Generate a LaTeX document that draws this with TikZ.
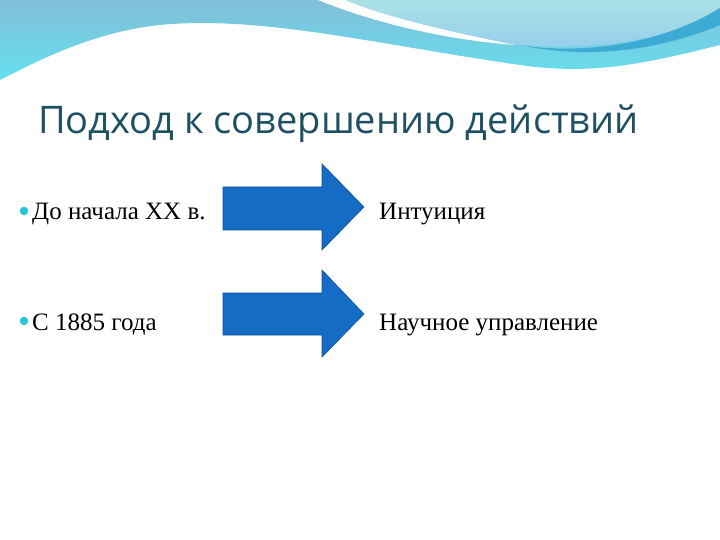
\documentclass[tikz,border=0pt]{standalone}
\usepackage{fontspec}
\setmainfont{Liberation Serif}
\newfontfamily\titlefont{Open Sans}
\definecolor{arrfill}{RGB}{21,108,196}
\definecolor{arrline}{RGB}{20,80,150}
\definecolor{bulc}{RGB}{40,200,220}
\definecolor{wtop}{RGB}{130,190,215}
\definecolor{wbot}{RGB}{100,225,240}
\definecolor{w2top}{RGB}{170,225,230}
\definecolor{w2bot}{RGB}{150,205,235}
\definecolor{wstripe}{RGB}{60,170,210}
\definecolor{titlec}{RGB}{30,80,100}
\begin{document}
\begin{tikzpicture}[x=1pt,y=-1pt,
  arr/.style={fill=arrfill,draw=arrline,line width=0.6pt},
  txt/.style={anchor=base west,inner sep=0,font=\fontsize{25}{30}\selectfont},
  bul/.style={circle,fill=bulc,inner sep=0,minimum size=8.5pt}]
\useasboundingbox (0,0) rectangle (720,540);
\fill[white] (0,0) rectangle (720,540);
% top wave
\shade[top color=wtop,bottom color=wbot]
 (0,0) -- (720,0) -- (720,45) .. controls (640,65) and (590,75) .. (520,65)
 .. controls (380,45) and (260,15) .. (160,25) .. controls (90,32) and (30,65) .. (0,80) -- cycle;
\shade[top color=w2top,bottom color=w2bot]
 (330,0) -- (720,0) -- (720,10) .. controls (660,45) and (580,50) .. (520,45) .. controls (440,35) and (380,15) .. (330,0) -- cycle;
\fill[white] (318,0) .. controls (380,25) and (450,40) .. (515,45) .. controls (440,30) and (380,15) .. (345,0) -- cycle;
\fill[wstripe] (720,8) .. controls (660,45) and (580,55) .. (520,45) .. controls (590,60) and (660,50) .. (720,25) -- cycle;
% title
\node[anchor=base west,inner sep=0,text=titlec,font=\titlefont\fontsize{38}{44}\selectfont] (title) at (38,134) {Подход к совершению действий};
% bullets and text
\node[bul] (b1) at (24,211) {};
\node[bul] (b2) at (24,321) {};
\node[txt] (t1) at (32,220) {До начала XX в.};
\node[txt] (t2) at (32,330) {С 1885 года};
\node[txt] (r1) at (379,220) {Интуиция};
\node[txt] (r2) at (379,330) {Научное управление};
% arrows
\filldraw[arr] (223,187) -- (322,187) -- (322,164) -- (364,207) -- (322,250) -- (322,230) -- (223,230) -- cycle;
\filldraw[arr] (223,293) -- (322,293) -- (322,270) -- (364,314) -- (322,357) -- (322,335) -- (223,335) -- cycle;
\end{tikzpicture}
\end{document}
